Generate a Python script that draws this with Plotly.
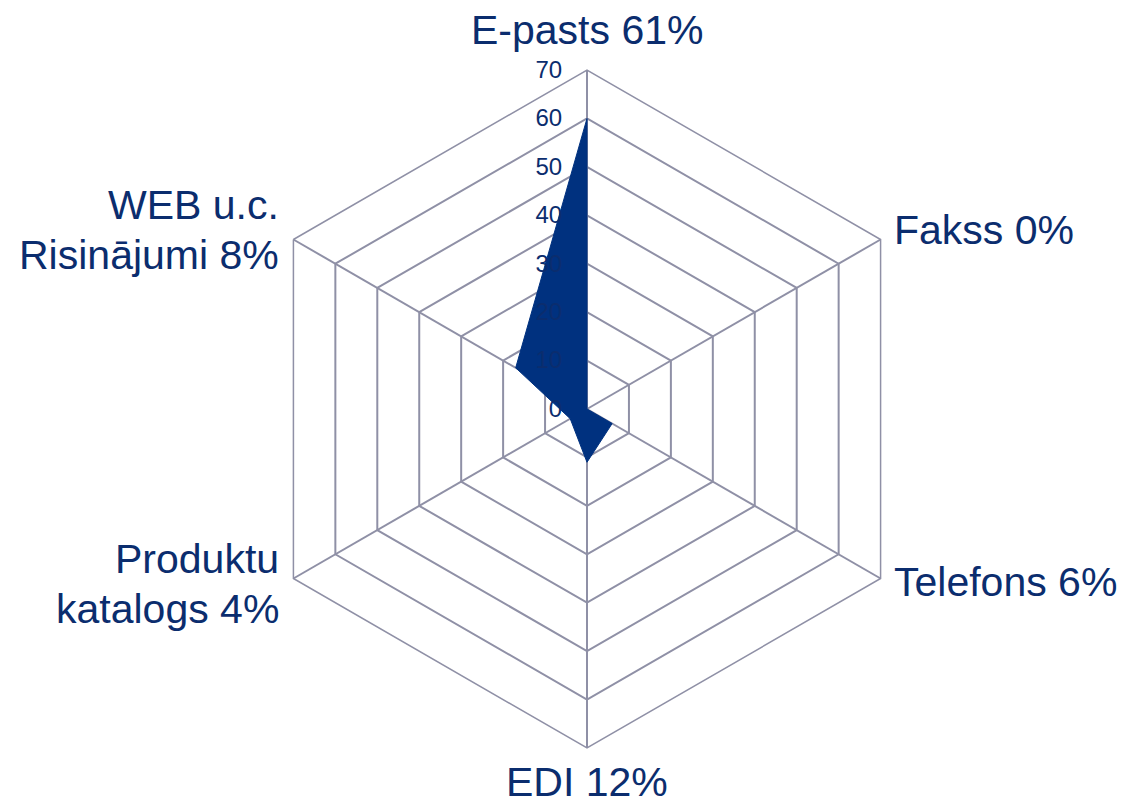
import plotly.graph_objects as go

categories = ["E-pasts 61%", "Fakss 0%", "Telefons 6%", "EDI 12%",
              "Produktu\nkatalogs 4%", "WEB u.c.\nRisinājumi 8%"]
values = [60, 0, 6, 11, 4, 17]
radial_ticks = [0, 10, 20, 30, 40, 50, 60, 70]

W, H = 1126, 805
PAGE_OFF = 8  # browser default body margin
cx, cy, R = 587 - PAGE_OFF, 409 - PAGE_OFF, 339

# label placement (page pixels from top-left): anchor x, first-line centre y, x-anchor
label_pos = [
    (587, 30, "center"),
    (893, 230, "left"),
    (893, 582, "left"),
    (587, 782, "center"),
    (280, 559, "right"),
    (280, 205, "right"),
]
line_gap = 50

fig = go.Figure()
fig.add_trace(go.Scatterpolar(
    r=values + [values[0]],
    theta=categories + [categories[0]],
    mode="lines",
    fill="toself",
    fillcolor="#00317f",
    line=dict(color="#00317f", width=1),
    hoverinfo="skip",
))

grid = "#8f90a6"
text_color = "#0b2d6e"

annotations = []
for cat, (px, py, anchor) in zip(categories, label_pos):
    for i, line in enumerate(cat.split("\n")):
        annotations.append(dict(
            text=line, xref="paper", yref="paper",
            x=(px - PAGE_OFF) / W, y=1 - (py - PAGE_OFF + i * line_gap) / H,
            xanchor=anchor, yanchor="middle", showarrow=False,
            borderpad=0,
            font=dict(size=41, color=text_color,
                      family="Liberation Sans, Arial, sans-serif"),
        ))

fig.update_layout(
    width=W, height=H,
    margin=dict(l=0, r=0, t=0, b=0),
    paper_bgcolor="white",
    plot_bgcolor="white",
    showlegend=False,
    font=dict(family="Liberation Sans, Arial, sans-serif", color=text_color),
    annotations=annotations,
    polar=dict(
        domain=dict(x=[(cx - R) / W, (cx + R) / W],
                    y=[(H - cy - R) / H, (H - cy + R) / H]),
        gridshape="linear",
        bgcolor="white",
        radialaxis=dict(
            range=[0, 70],
            tickvals=radial_ticks,
            ticktext=[str(t) for t in radial_ticks],
            angle=90,
            tickangle=90,
            side="counterclockwise",
            showline=False,
            gridcolor=grid,
            gridwidth=1.5,
            ticks="outside",
            ticklen=16,
            tickcolor="rgba(0,0,0,0)",
            tickfont=dict(size=24, color=text_color),
        ),
        angularaxis=dict(
            direction="clockwise",
            rotation=90,
            showline=True,
            linecolor=grid,
            linewidth=1.5,
            gridcolor=grid,
            gridwidth=1.5,
            ticks="",
            showticklabels=False,
        ),
    ),
)

fig.write_html("out.html")
